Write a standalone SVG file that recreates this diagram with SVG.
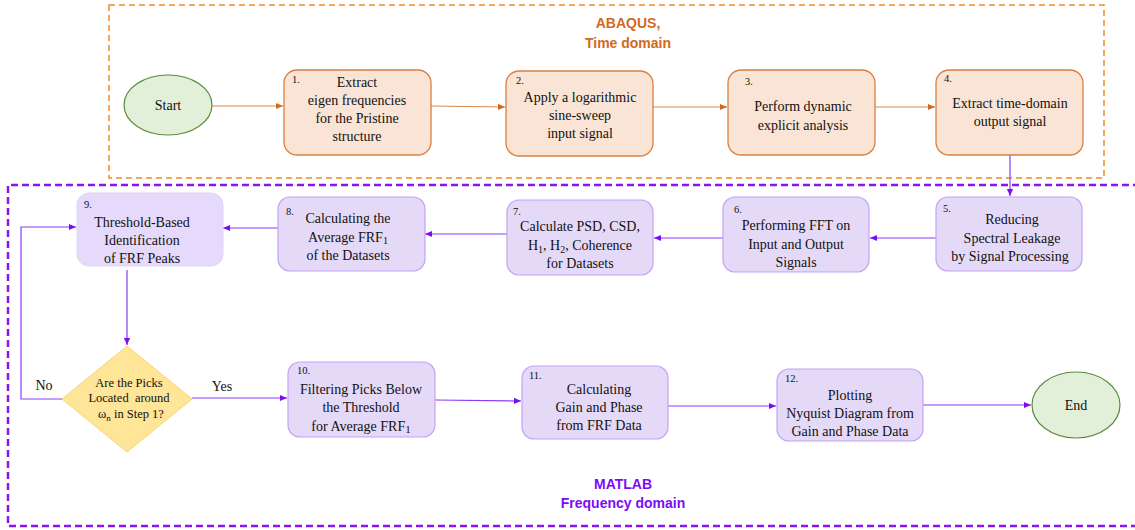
<svg xmlns="http://www.w3.org/2000/svg" width="1135" height="530" viewBox="0 0 1135 530">
<defs>
<style>
.t{font-family:"Liberation Serif","Times New Roman",serif;font-size:14px;fill:#111;text-anchor:middle}
.n{font-family:"Liberation Serif","Times New Roman",serif;font-size:10.5px;fill:#111}
.dt{font-family:"Liberation Serif","Times New Roman",serif;font-size:12.5px;fill:#111;text-anchor:middle}
.lb{font-family:"Liberation Serif","Times New Roman",serif;font-size:14px;fill:#111;text-anchor:middle}
.on{fill:#fae4d6;stroke:#d8803f;stroke-width:1.3}
.pn{fill:#e5d9f8;stroke:#c4a2f4;stroke-width:1.2}
.el{fill:#e2efd9;stroke:#5b8c3c;stroke-width:1.2}
.oc{fill:none;stroke:#d98a50;stroke-width:1.2}
.pc{fill:none;stroke:#8a3cf5;stroke-width:1.2}
.ot{font-family:"Liberation Sans",Arial,sans-serif;font-size:14px;font-weight:bold;fill:#d2691e;text-anchor:middle}
.mt{font-family:"Liberation Sans",Arial,sans-serif;font-size:14px;font-weight:bold;fill:#7a0df5;text-anchor:middle}
</style>
<marker id="ao" viewBox="0 0 10 10" refX="9" refY="5" markerWidth="8" markerHeight="8" orient="auto" markerUnits="userSpaceOnUse"><path d="M0,1 L9,5 L0,9 z" fill="#d06a20"/></marker>
<marker id="ap" viewBox="0 0 10 10" refX="9" refY="5" markerWidth="8" markerHeight="8" orient="auto" markerUnits="userSpaceOnUse"><path d="M0,1 L9,5 L0,9 z" fill="#7a0df5"/></marker>
</defs>
<rect width="1135" height="530" fill="#fff"/>

<g id="abaqus-region">
<rect x="109" y="5" width="995" height="173" fill="none" stroke="#f08a24" stroke-width="1.5" stroke-dasharray="6,4"/>
<text class="ot" x="628" y="28">ABAQUS,</text>
<text class="ot" x="628" y="48">Time domain</text>
</g>
<g id="matlab-region">
<path d="M1140,185 L8,185 L8,526 L1140,526" fill="none" stroke="#8a14f0" stroke-width="2.5" stroke-dasharray="7,4"/>
<text class="mt" x="623" y="489">MATLAB</text>
<text class="mt" x="623" y="508">Frequency domain</text>
</g>

<g id="connectors">
<path class="oc" d="M212,106 L283,106" marker-end="url(#ao)"/>
<path class="oc" d="M431,106 L505,107" marker-end="url(#ao)"/>
<path class="oc" d="M653,107 L727,107" marker-end="url(#ao)"/>
<path class="oc" d="M875,107 L935,107" marker-end="url(#ao)"/>
<path class="pc" d="M1010,155 L1010,196" marker-end="url(#ap)"/>
<path class="pc" d="M936,238 L870,238" marker-end="url(#ap)"/>
<path class="pc" d="M723,238 L654,238" marker-end="url(#ap)"/>
<path class="pc" d="M507,234 L425,234" marker-end="url(#ap)"/>
<path class="pc" d="M278,228 L223,228" marker-end="url(#ap)"/>
<path class="pc" d="M127,270 L127,345" marker-end="url(#ap)"/>
<path class="pc" d="M62,399 L21,399 L21,227 L76,227" marker-end="url(#ap)"/>
<path class="pc" d="M192,398 L287,398" marker-end="url(#ap)"/>
<path class="pc" d="M435,400 L521,401" marker-end="url(#ap)"/>
<path class="pc" d="M668,406 L776,406" marker-end="url(#ap)"/>
<path class="pc" d="M923,405 L1031,405" marker-end="url(#ap)"/>
<text class="lb" x="44" y="390">No</text>
<text class="lb" x="222" y="391">Yes</text>
</g>

<g id="start">
<ellipse class="el" cx="168" cy="105" rx="44" ry="30"/>
<text class="t" x="168" y="110">Start</text>
</g>
<g id="node1">
<rect class="on" x="284" y="70" width="147" height="85" rx="13"/>
<text class="n" x="292" y="83">1.</text>
<text class="t" x="357" y="87">Extract</text>
<text class="t" x="357" y="105">eigen frequencies</text>
<text class="t" x="357" y="123">for the Pristine</text>
<text class="t" x="357" y="141">structure</text>
</g>
<g id="node2">
<rect class="on" x="506" y="71" width="147" height="85" rx="13"/>
<text class="n" x="516" y="84">2.</text>
<text class="t" x="580" y="102">Apply a logarithmic</text>
<text class="t" x="580" y="120">sine-sweep</text>
<text class="t" x="580" y="138">input signal</text>
</g>
<g id="node3">
<rect class="on" x="728" y="70" width="147" height="85" rx="13"/>
<text class="n" x="745" y="85">3.</text>
<text class="t" x="803" y="111">Perform dynamic</text>
<text class="t" x="803" y="130">explicit analysis</text>
</g>
<g id="node4">
<rect class="on" x="936" y="70" width="147" height="85" rx="13"/>
<text class="n" x="944" y="82">4.</text>
<text class="t" x="1010" y="108">Extract time-domain</text>
<text class="t" x="1010" y="126">output signal</text>
</g>
<g id="node5">
<rect class="pn" x="936" y="197" width="146" height="74" rx="12"/>
<text class="n" x="943" y="212">5.</text>
<text class="t" x="1012" y="224">Reducing</text>
<text class="t" x="1012" y="243">Spectral Leakage</text>
<text class="t" x="1010" y="261">by Signal Processing</text>
</g>
<g id="node6">
<rect class="pn" x="723" y="197" width="146" height="75" rx="12"/>
<text class="n" x="734" y="213">6.</text>
<text class="t" x="796" y="230">Performing FFT on</text>
<text class="t" x="796" y="249">Input and Output</text>
<text class="t" x="796" y="267">Signals</text>
</g>
<g id="node7">
<rect class="pn" x="507" y="200" width="146" height="75" rx="12"/>
<text class="n" x="513" y="215">7.</text>
<text class="t" x="580" y="231">Calculate PSD, CSD,</text>
<text class="t" x="580" y="250">H<tspan font-size="10" dy="3">1</tspan><tspan dy="-3">, H</tspan><tspan font-size="10" dy="3">2</tspan><tspan dy="-3">, Coherence</tspan></text>
<text class="t" x="580" y="268">for Datasets</text>
</g>
<g id="node8">
<rect class="pn" x="278" y="197" width="147" height="74" rx="12"/>
<text class="n" x="286" y="215">8.</text>
<text class="t" x="348" y="223">Calculating the</text>
<text class="t" x="348" y="242">Average FRF<tspan font-size="10" dy="2">1</tspan></text>
<text class="t" x="348" y="260">of the Datasets</text>
</g>
<g id="node9">
<rect x="77" y="193" width="146" height="73" rx="12" fill="#e5dafc" stroke="#e1d3fa" stroke-width="1"/>
<text class="n" x="84" y="208">9.</text>
<text class="t" x="142" y="227">Threshold-Based</text>
<text class="t" x="142" y="245">Identification</text>
<text class="t" x="142" y="263">of FRF Peaks</text>
</g>
<g id="decision">
<path d="M127,346 L192,399 L127,452 L62,399 z" fill="#ffe598" stroke="#f6d673" stroke-width="1"/>
<text class="dt" x="129" y="387">Are the Picks</text>
<text class="dt" x="129" y="402">Located&#160; around</text>
<text class="dt" x="131" y="418">ω<tspan font-size="9" dy="3">n</tspan><tspan dy="-3"> in Step 1?</tspan></text>
</g>
<g id="node10">
<rect class="pn" x="288" y="362" width="147" height="75" rx="12"/>
<text class="n" x="297" y="374">10.</text>
<text class="t" x="361" y="394">Filtering Picks Below</text>
<text class="t" x="361" y="412">the Threshold</text>
<text class="t" x="361" y="431">for Average FRF<tspan font-size="11" dy="2">1</tspan></text>
</g>
<g id="node11">
<rect class="pn" x="522" y="366" width="146" height="73" rx="12"/>
<text class="n" x="529" y="379">11.</text>
<text class="t" x="599" y="394">Calculating</text>
<text class="t" x="599" y="412">Gain and Phase</text>
<text class="t" x="599" y="430">from FRF Data</text>
</g>
<g id="node12">
<rect class="pn" x="777" y="369" width="146" height="72" rx="12"/>
<text class="n" x="785" y="382">12.</text>
<text class="t" x="850" y="400">Plotting</text>
<text class="t" x="850" y="418">Nyquist Diagram from</text>
<text class="t" x="850" y="436">Gain and Phase Data</text>
</g>
<g id="end">
<ellipse class="el" cx="1076" cy="405" rx="44" ry="33"/>
<text class="t" x="1076" y="410">End</text>
</g>
</svg>
